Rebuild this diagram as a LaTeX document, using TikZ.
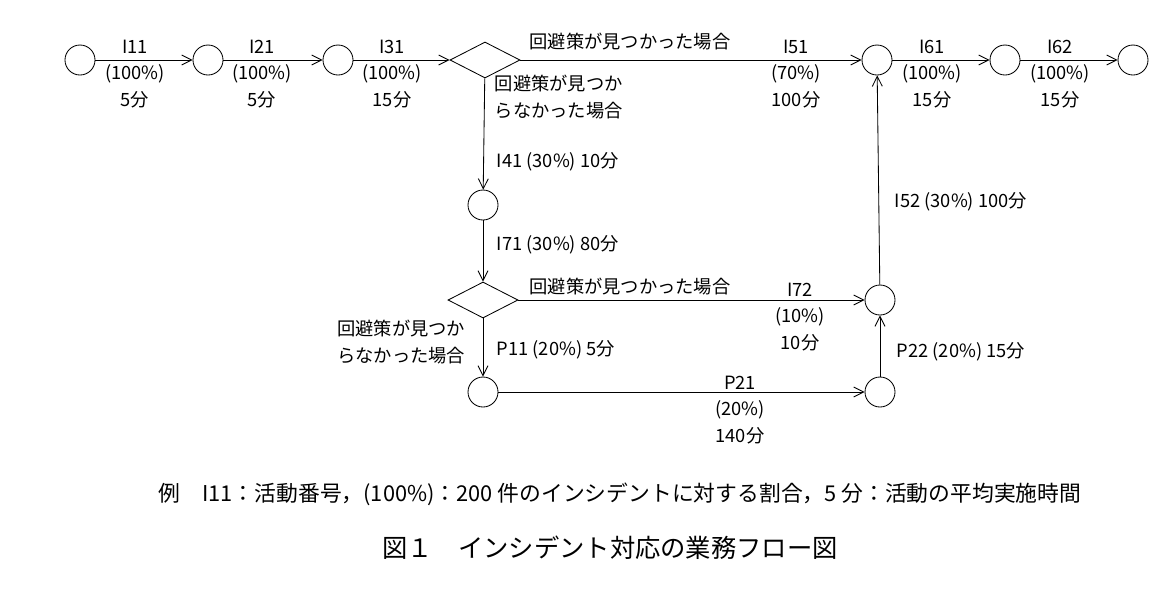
\documentclass[tikz,border=0pt]{standalone}
\usepackage{fontspec}
\setmainfont{Noto Sans CJK JP}
\usetikzlibrary{shapes.geometric, arrows.meta, positioning}

\begin{document}
\begin{tikzpicture}[x=0.025cm, y=-0.025cm, semithick]
        % Define block styles
        \tikzstyle{state} = [circle, draw, minimum size=0.75cm, inner sep=0pt]
        \tikzstyle{branch} = [diamond, draw, minimum width=1.75cm, minimum height=0.9cm, aspect=2, inner sep=0pt]
        \tikzstyle{line} = [draw, -{Straight Barb[length=2.5mm, width=2.5mm]}]
        \tikzstyle{lbl} = [font=\fontsize{13}{19}\selectfont, align=center, inner sep=1pt]
        \useasboundingbox (0,0) rectangle (1160,608);

        % Define nodes
        \node [state] (A) at (80,60) {};
        \node [state] (B) at (208,60) {};
        \node [state] (C) at (338,60) {};
        \node [branch] (D1) at (485,60) {};
        \node [state] (E) at (877,60) {};
        \node [state] (F) at (1005,60) {};
        \node [state] (G) at (1133,60) {};
        \node [state] (H) at (483,205) {};
        \node [branch] (D2) at (483,300) {};
        \node [state] (P) at (483,392) {};
        \node [state] (Q) at (880,392) {};
        \node [state] (R) at (880,300) {};

        % Connect nodes with paths
        \draw[line] (A) -- (B);
        \draw[line] (B) -- (C);
        \draw[line] (C) -- (D1);
        \draw[line] (D1) -- (E);
        \draw[line] (E) -- (F);
        \draw[line] (F) -- (G);
        \draw[line] (D1) -- (H);
        \draw[line] (H) -- (D2);
        \draw[line] (D2) -- (R);
        \draw[line] (D2) -- (P);
        \draw[line] (P) -- (Q);
        \draw[line] (Q) -- (R);
        \draw[line] (R) -- (E);

        % Labels
        \node [lbl] (l11) at (135,74) {I11\\(100\%)\\5分};
        \node [lbl] (l21) at (262,74) {I21\\(100\%)\\5分};
        \node [lbl] (l31) at (392,74) {I31\\(100\%)\\15分};
        \node [lbl] (l51) at (796,74) {I51\\(70\%)\\100分};
        \node [lbl] (l61) at (932,74) {I61\\(100\%)\\15分};
        \node [lbl] (l62) at (1060,74) {I62\\(100\%)\\15分};
        \node [lbl] (y1) at (630,42) {回避策が見つかった場合};
        \node [lbl, align=left, anchor=west] (n1) at (493,97) {回避策が見つか\\らなかった場合};
        \node [lbl, anchor=west] (l41) at (495,162) {I41 (30\%) 10分};
        \node [lbl, anchor=west] (l71) at (495,245) {I71 (30\%) 80分};
        \node [lbl] (y2) at (630,287) {回避策が見つかった場合};
        \node [lbl] (l72) at (800,317) {I72\\(10\%)\\10分};
        \node [lbl, align=left, anchor=east] (n2) at (467,342) {回避策が見つか\\らなかった場合};
        \node [lbl, anchor=west] (lp11) at (495,350) {P11 (20\%) 5分};
        \node [lbl] (lp21) at (740,410) {P21\\(20\%)\\140分};
        \node [lbl, anchor=west] (lp22) at (895,352) {P22 (20\%) 15分};
        \node [lbl, anchor=west] (l52) at (893,202) {I52 (30\%) 100分};
        \node [font=\fontsize{15.5}{18}\selectfont] (ex) at (620,494) {例\quad I11：活動番号，(100\%)：200 件のインシデントに対する割合，5 分：活動の平均実施時間};
        \node [font=\fontsize{18}{20}\selectfont] (title) at (610,548) {図１\quad インシデント対応の業務フロー図};
\end{tikzpicture}
\end{document}
